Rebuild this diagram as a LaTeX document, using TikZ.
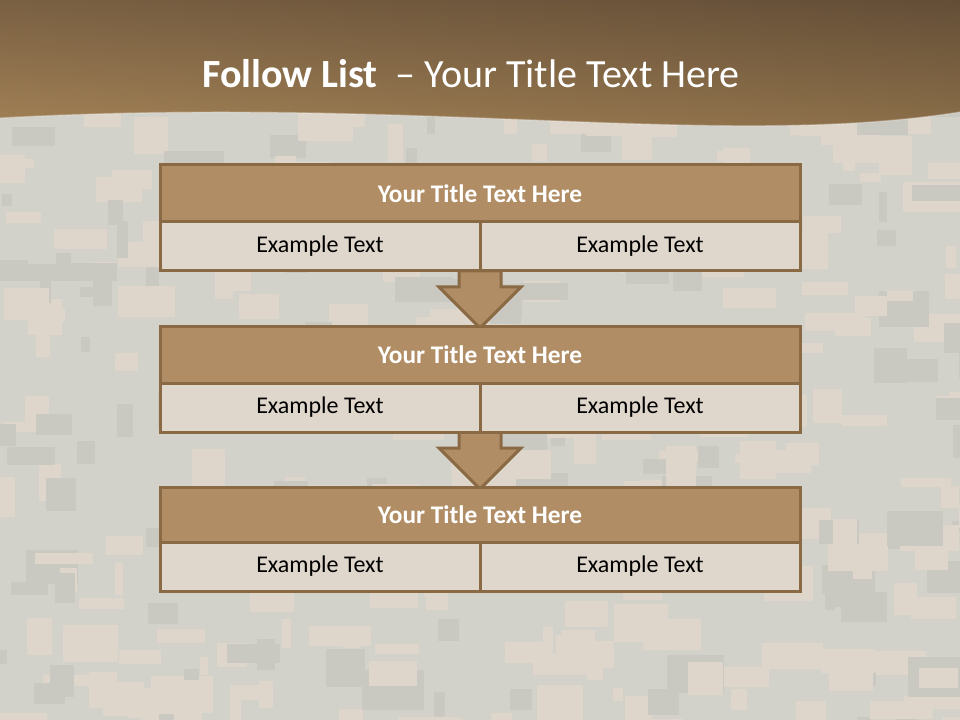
\documentclass[tikz,border=0pt]{standalone}
\usepackage{fontspec}
\setmainfont{Carlito}
\usetikzlibrary{calc}
\definecolor{camobase}{HTML}{D2D1CA}
\definecolor{camolight}{HTML}{DFD6CB}
\definecolor{camodark}{HTML}{C9C8C1}
\definecolor{hdrdark}{HTML}{66503A}
\definecolor{hdrlight}{HTML}{A98759}
\definecolor{hdrright}{HTML}{5E4A30}
\definecolor{boxborder}{HTML}{8A6A44}
\definecolor{boxtitle}{HTML}{B08D65}
\definecolor{boxbody}{HTML}{E0D7CC}
\tikzset{
  boxbase/.style={draw=boxborder, line width=2.25pt, inner sep=0pt, anchor=center},
  titlebox/.style={boxbase, fill=boxtitle, minimum width=480pt, text=white,
    font=\fontsize{19}{23}\selectfont\bfseries},
  bodybox/.style={boxbase, fill=boxbody, minimum width=240pt, minimum height=36.75pt,
    text=black, font=\fontsize{18}{22}\selectfont},
  flowarrow/.style={draw=boxborder, fill=boxtitle, line width=2.25pt, line join=miter}
}
\begin{document}
\begin{tikzpicture}[x=0.75pt,y=-0.75pt]
\useasboundingbox (0,0) rectangle (960,720);
\begin{scope}
\clip (0,0) rectangle (960,720);
\fill[camobase] (0,0) rectangle (960,720);
\pgfmathsetseed{11}
\foreach \i in {1,...,380}{
  \pgfmathsetmacro\px{-20+980*rnd}
  \pgfmathsetmacro\py{90+640*rnd}
  \pgfmathsetmacro\pw{8+55*rnd}
  \pgfmathsetmacro\ph{8+32*rnd}
  \pgfmathsetmacro\pc{rnd}
  \ifdim\pc pt<0.6pt \def\cc{camolight}\else\def\cc{camodark}\fi
  \fill[\cc] (\px,\py) rectangle ++(\pw,\ph);
}
% header band
\path[top color=hdrdark, bottom color=hdrlight]
  (0,0) -- (960,0) -- (960,112)
  .. controls (720,150) and (420,95) .. (0,118) -- cycle;
\path[left color=hdrlight, right color=hdrright, opacity=0.3]
  (0,0) -- (960,0) -- (960,112)
  .. controls (720,150) and (420,95) .. (0,118) -- cycle;
\draw[white, opacity=0.3, line width=1pt]
  (960,112) .. controls (720,150) and (420,95) .. (0,118);
\end{scope}

\node[text=white, anchor=base, font=\fontsize{30}{36}\selectfont] (title) at (471,88)
  {{\bfseries Follow List}\ \ – Your Title Text Here};

% arrows (drawn below the boxes)
\coordinate (a1top) at (480,271);
\coordinate (a1tip) at (480,328);
\coordinate (a2top) at (480,432);
\coordinate (a2tip) at (480,489);

\draw[flowarrow] ($(a1top)+(-21,0)$) -- ($(a1top)+(-21,16)$) -- ($(a1top)+(-41,16)$)
  -- (a1tip) -- ($(a1top)+(41,16)$) -- ($(a1top)+(21,16)$) -- ($(a1top)+(21,0)$) -- cycle;
\draw[flowarrow] ($(a2top)+(-21,0)$) -- ($(a2top)+(-21,16)$) -- ($(a2top)+(-41,16)$)
  -- (a2tip) -- ($(a2top)+(41,16)$) -- ($(a2top)+(21,16)$) -- ($(a2top)+(21,0)$) -- cycle;

% group 1
\node[titlebox, minimum height=42.75pt] (t1) at (480,193.5) {Your Title Text Here};
\node[bodybox] (b1l) at (320,246.5) {Example Text};
\node[bodybox] (b1r) at (640,246.5) {Example Text};
% group 2
\node[titlebox, minimum height=42.75pt] (t2) at (480,354.5) {Your Title Text Here};
\node[bodybox] (b2l) at (320,407.5) {Example Text};
\node[bodybox] (b2r) at (640,407.5) {Example Text};
% group 3
\node[titlebox, minimum height=41.25pt] (t3) at (480,514.5) {Your Title Text Here};
\node[bodybox] (b3l) at (320,566.5) {Example Text};
\node[bodybox] (b3r) at (640,566.5) {Example Text};
\end{tikzpicture}
\end{document}
